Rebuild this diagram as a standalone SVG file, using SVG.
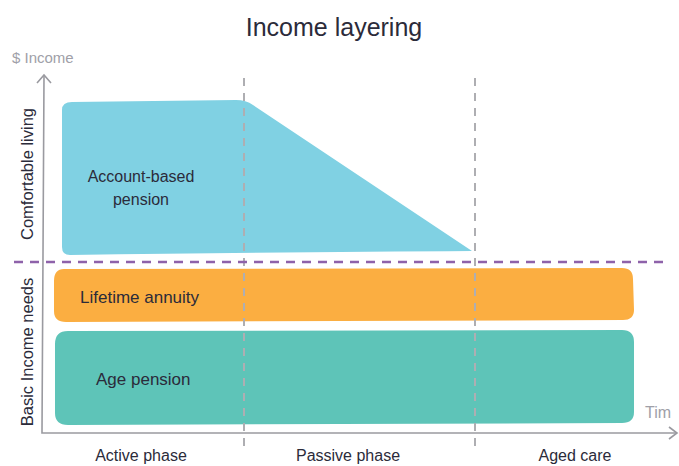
<svg xmlns="http://www.w3.org/2000/svg" width="679" height="466" viewBox="0 0 679 466">
<style>
.t{font-family:"Liberation Sans",Arial,sans-serif;fill:#2b2b3a}
.g{font-family:"Liberation Sans",Arial,sans-serif;fill:#a0a0a8}
.ax{stroke:#9a9aa0;stroke-width:1.6;fill:none}
.vd{stroke:#aeaeb2;stroke-width:2;stroke-dasharray:8 7;fill:none}
.pd{stroke:#8e62aa;stroke-width:2.5;stroke-dasharray:9 7;fill:none}
</style>
<rect width="679" height="466" fill="#fff"/>
<text class="t" x="334" y="36" font-size="25" text-anchor="middle">Income layering</text>
<text class="g" x="12" y="63" font-size="15">$ Income</text>
<g id="account-based">
<path d="M62,110 Q62,102 72,102 L236,100 Q246,100 253,105 L472,251 Q300,252 70,255 Q62,255 62,247 Z" fill="#80d1e3"/>
<text class="t" x="141" y="182" font-size="16" text-anchor="middle">Account-based</text>
<text class="t" x="141" y="205" font-size="16" text-anchor="middle">pension</text>
</g>
<g id="annuity">
<path d="M64,269 L622,268 Q633,268 633,279 L634,310 Q634,320 623,320 L66,322 Q54,322 54,311 L54,281 Q54,269 64,269 Z" fill="#fbae41"/>
<text class="t" x="80" y="303" font-size="17">Lifetime annuity</text>
</g>
<g id="age-pension">
<path d="M68,331 L622,330 Q634,330 634,342 L634,412 Q634,423 622,423 L68,425 Q55,425 55,413 L55,344 Q55,331 68,331 Z" fill="#5ec4b8"/>
<text class="t" x="96" y="385" font-size="17">Age pension</text>
</g>
<g id="connectors">
<path class="vd" d="M244,78 V446"/>
<path class="vd" d="M475,78 V446"/>
<path class="pd" d="M14,262 L670,262"/>
<path class="ax" d="M44,76 L42,433 L676,433"/>
<path class="ax" d="M37,83 L44,75 L51,83"/>
<path class="ax" d="M669,427 L677,433 L669,439"/>
</g>
<text class="t" font-size="16.5" text-anchor="middle" transform="translate(33,174) rotate(-90)">Comfortable living</text>
<text class="t" font-size="16.5" text-anchor="middle" transform="translate(33,352) rotate(-90)">Basic Income needs</text>
<text class="g" x="645" y="418" font-size="16">Tim</text>
<text class="t" x="141" y="461" font-size="16" text-anchor="middle">Active phase</text>
<text class="t" x="348" y="461" font-size="16" text-anchor="middle">Passive phase</text>
<text class="t" x="575" y="461" font-size="16" text-anchor="middle">Aged care</text>
</svg>
